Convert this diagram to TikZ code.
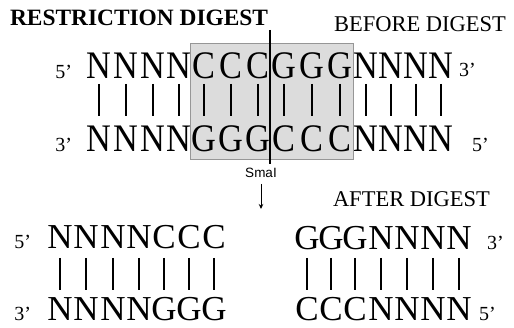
\documentclass[tikz,border=0pt]{standalone}
\usepackage{fontspec}
\setmainfont{Liberation Serif}
\newfontfamily\dnawide[FakeStretch=0.88]{Liberation Serif}
\newfontfamily\enzfont{Liberation Sans}
\usetikzlibrary{arrows.meta}
\definecolor{boxfill}{RGB}{220,220,220}
\definecolor{boxline}{RGB}{150,150,150}
\tikzset{
  base/.style={inner sep=0pt, outer sep=0pt, text=black},
  bigbase/.style={base, anchor=base, text depth=0pt, font=\dnawide\fontsize{39}{39}\selectfont},
  smallbase/.style={base, anchor=base, text depth=0pt, font=\fontsize{35}{35}\selectfont},
  endlbl/.style={base, text depth=0pt, font=\fontsize{20}{20}\selectfont},
  heading/.style={base, anchor=base west, font=\fontsize{22.5}{22.5}\selectfont},
  pairbar/.style={line width=1.6pt, black},
}
\begin{document}
\begin{tikzpicture}[x=1pt,y=-1pt]
\useasboundingbox (0,0) rectangle (514,328);

% recognition site highlight
\draw[fill=boxfill, draw=boxline, line width=0.8pt] (190,43) rectangle (353,159);

% headings
\node[base, anchor=base west, font=\bfseries\fontsize{23.4}{23.4}\selectfont] (title) at (10,26) {RESTRICTION DIGEST};
\node[heading] (before) at (334,32) {BEFORE DIGEST};
\node[heading] (after) at (333,207) {AFTER DIGEST};

% uncut duplex
\foreach \i/\x/\u/\l in {1/99/N/N, 2/126/N/N, 3/153/N/N, 4/179/N/N,
  5/204/C/G, 6/231/C/G, 7/258/C/G, 8/284/G/C, 9/312/G/C, 10/340/G/C,
  11/366/N/N, 12/391/N/N, 13/416/N/N, 14/441/N/N} {
  \node[bigbase] (t\i) at (\x,79) {\u};
  \node[bigbase] (b\i) at (\x,152) {\l};
  \draw[pairbar] ([yshift=-5pt]t\i.base) -- ([yshift=36pt]b\i.base);
}
\node[endlbl, anchor=base east] (t5p) at (72,79) {5’};
\node[endlbl, anchor=base east] (b3p) at (72,152) {3’};
\node[endlbl, anchor=base west] (t3p) at (459,77) {3’};
\node[endlbl, anchor=base west] (b5p) at (472,152) {5’};

% SmaI cut site
\coordinate (cuttop) at (270,30);
\coordinate (cutbot) at (270,164);
\draw[line width=1.2pt, black] (cuttop) -- (cutbot);
\node[base, font=\enzfont\fontsize{13.5}{13.5}\selectfont] (enz) at (261,173) {SmaI};
\coordinate (arrowend) at (261,209);
\draw[line width=1pt, -{Stealth[length=5pt,width=4.5pt]}] ([yshift=-6pt]enz.south) -- (arrowend);

% left fragment
\foreach \i/\x/\u/\l in {1/60/N/N, 2/86/N/N, 3/113/N/N, 4/139/N/N,
  5/164/C/G, 6/189/C/G, 7/214/C/G} {
  \node[smallbase] (lt\i) at (\x,249) {\u};
  \node[smallbase] (lb\i) at (\x,321) {\l};
  \draw[pairbar] ([yshift=-9pt]lt\i.base) -- ([yshift=31pt]lb\i.base);
}
\node[endlbl, anchor=base east] (lt5p) at (31,249) {5’};
\node[endlbl, anchor=base east] (lb3p) at (31,321) {3’};

% right fragment
\foreach \i/\x/\u/\l in {1/307/G/C, 2/331/G/C, 3/355/G/C, 4/381/N/N,
  5/407/N/N, 6/433/N/N, 7/459/N/N} {
  \node[smallbase] (rt\i) at (\x,250) {\u};
  \node[smallbase] (rb\i) at (\x,321) {\l};
  \draw[pairbar] ([yshift=-8pt]rt\i.base) -- ([yshift=31pt]rb\i.base);
}
\node[endlbl, anchor=base west] (rt3p) at (487,250) {3’};
\node[endlbl, anchor=base west] (rb5p) at (479,321) {5’};
\end{tikzpicture}
\end{document}
